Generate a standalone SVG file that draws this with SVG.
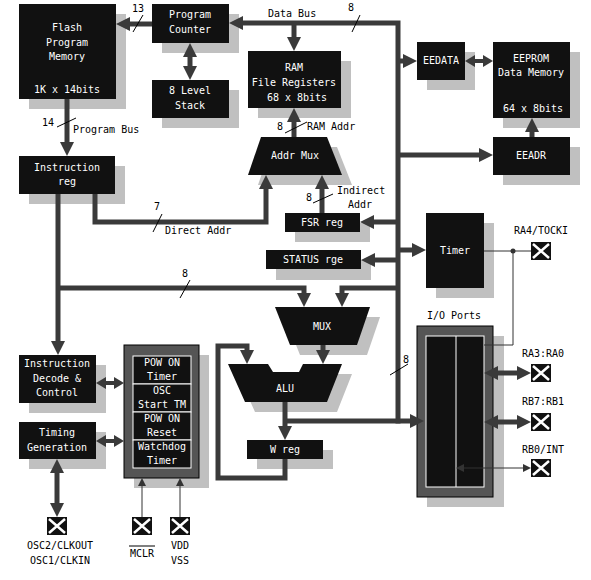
<svg xmlns="http://www.w3.org/2000/svg" width="591" height="580" viewBox="0 0 591 580">
<style>
text{font-family:"DejaVu Sans Mono","Liberation Mono",monospace;font-size:10px;}
.w{fill:#fff;text-anchor:middle;}
.k{fill:#000;}
.c{text-anchor:middle;}
.bx{fill:#111;}
.sh{fill:#c0c0c0;}
.fr{fill:#555;stroke:#000;stroke-width:1;}
.cell{fill:#111;stroke:#fff;stroke-width:1;}
.cn{fill:none;stroke:#3a3a3a;stroke-width:5;}
.cs{fill:none;stroke:#3a3a3a;stroke-width:4;}
.tn{fill:none;stroke:#333;stroke-width:1;}
.sl{stroke:#000;stroke-width:1;}
.pin rect{fill:#111;}
.pin path{stroke:#fff;stroke-width:2.5;}
</style>
<defs>
<marker id="ah" viewBox="0 0 14 14" refX="2" refY="7" markerWidth="14" markerHeight="14" markerUnits="userSpaceOnUse" orient="auto-start-reverse"><path d="M0,0 L14,7 L0,14 z" fill="#3a3a3a"/></marker>
<marker id="as" viewBox="0 0 10 12" refX="2" refY="6" markerWidth="10" markerHeight="12" markerUnits="userSpaceOnUse" orient="auto-start-reverse"><path d="M0,0 L10,6 L0,12 z" fill="#3a3a3a"/></marker>
<marker id="th" viewBox="0 0 8 8" refX="1" refY="4" markerWidth="8" markerHeight="8" markerUnits="userSpaceOnUse" orient="auto-start-reverse"><path d="M0,0 L8,4 L0,8 z" fill="#333"/></marker>
</defs>
<rect width="591" height="580" fill="#fff"/>

<g id="flash">
<rect class="sh" x="29" y="14" width="97" height="95"/>
<rect class="bx" x="19" y="4" width="97" height="95"/>
<text class="w" x="67" y="31">Flash</text>
<text class="w" x="67" y="46">Program</text>
<text class="w" x="67" y="60">Memory</text>
<text class="w" x="67" y="93">1K x 14bits</text>
</g>
<g id="pc">
<rect class="sh" x="162" y="14" width="77" height="39"/>
<rect class="bx" x="152" y="4" width="77" height="39"/>
<text class="w" x="190" y="18">Program</text>
<text class="w" x="190" y="33">Counter</text>
</g>
<g id="stack">
<rect class="sh" x="162" y="90" width="77" height="38"/>
<rect class="bx" x="152" y="80" width="77" height="38"/>
<text class="w" x="190" y="94">8 Level</text>
<text class="w" x="190" y="109">Stack</text>
</g>
<g id="ir">
<rect class="sh" x="29" y="166" width="96" height="38"/>
<rect class="bx" x="19" y="156" width="96" height="38"/>
<text class="w" x="67" y="171">Instruction</text>
<text class="w" x="67" y="185">reg</text>
</g>
<g id="ram">
<rect class="sh" x="258" y="61" width="93" height="57"/>
<rect class="bx" x="248" y="51" width="93" height="57"/>
<text class="w" x="294" y="71">RAM</text>
<text class="w" x="294" y="86">File Registers</text>
<text class="w" x="297" y="101">68 x 8bits</text>
</g>
<g id="addrmux">
<polygon class="sh" points="271,147 337,147 352,185 258,185"/>
<polygon class="bx" points="261,137 327,137 342,175 248,175"/>
<text class="w" x="295" y="159">Addr Mux</text>
</g>
<g id="eedata">
<rect class="sh" x="427" y="52" width="48" height="38"/>
<rect class="bx" x="417" y="42" width="48" height="38"/>
<text class="w" x="441" y="64">EEDATA</text>
</g>
<g id="eeprom">
<rect class="sh" x="503" y="52" width="77" height="76"/>
<rect class="bx" x="493" y="42" width="77" height="76"/>
<text class="w" x="531" y="62">EEPROM</text>
<text class="w" x="531" y="76">Data Memory</text>
<text class="w" x="533" y="112">64 x 8bits</text>
</g>
<g id="eeadr">
<rect class="sh" x="503" y="147" width="77" height="38"/>
<rect class="bx" x="493" y="137" width="77" height="38"/>
<text class="w" x="531" y="159">EEADR</text>
</g>
<g id="fsr">
<rect class="sh" x="295" y="223" width="75" height="19"/>
<rect class="bx" x="285" y="213" width="75" height="19"/>
<text class="w" x="322" y="226">FSR reg</text>
</g>
<g id="status">
<rect class="sh" x="276" y="260" width="95" height="20"/>
<rect class="bx" x="266" y="250" width="95" height="19"/>
<text class="w" x="313" y="263">STATUS rge</text>
</g>
<g id="timer">
<rect class="sh" x="436" y="223" width="58" height="75"/>
<rect class="bx" x="426" y="213" width="58" height="75"/>
<text class="w" x="455" y="254">Timer</text>
</g>
<g id="mux">
<polygon class="sh" points="285,317 380,317 367,355 300,355"/>
<polygon class="bx" points="275,307 370,307 357,345 290,345"/>
<text class="w" x="322" y="330">MUX</text>
</g>
<g id="alu">
<polygon class="sh" points="238,374 278,374 283,382 309,382 313,374 352,374 337,412 255,412"/>
<polygon class="bx" points="228,364 268,364 273,372 299,372 303,364 342,364 327,402 245,402"/>
<text class="w" x="285" y="392">ALU</text>
</g>
<g id="wreg">
<rect class="sh" x="257" y="450" width="76" height="19"/>
<rect class="bx" x="247" y="440" width="76" height="19"/>
<text class="w" x="285" y="453">W reg</text>
</g>
<g id="decode">
<rect class="sh" x="29" y="365" width="77" height="48"/>
<rect class="bx" x="19" y="355" width="77" height="48"/>
<text class="w" x="57" y="367">Instruction</text>
<text class="w" x="57" y="382">Decode &amp;</text>
<text class="w" x="57" y="396">Control</text>
</g>
<g id="timing">
<rect class="sh" x="29" y="432" width="77" height="37"/>
<rect class="bx" x="19" y="422" width="77" height="37"/>
<text class="w" x="57" y="436">Timing</text>
<text class="w" x="57" y="451">Generation</text>
</g>
<g id="power">
<rect class="sh" x="134" y="355" width="75" height="133"/>
<rect class="fr" x="124" y="345" width="75" height="133"/>
<rect class="cell" x="133" y="356" width="58" height="28"/>
<rect class="cell" x="133" y="384" width="58" height="28"/>
<rect class="cell" x="133" y="412" width="58" height="28"/>
<rect class="cell" x="133" y="440" width="58" height="28"/>
<text class="w" x="162" y="366">POW ON</text>
<text class="w" x="162" y="380">Timer</text>
<text class="w" x="162" y="394">OSC</text>
<text class="w" x="162" y="408">Start TM</text>
<text class="w" x="162" y="422">POW ON</text>
<text class="w" x="162" y="436">Reset</text>
<text class="w" x="162" y="450">Watchdog</text>
<text class="w" x="162" y="464">Timer</text>
</g>
<g id="ioports">
<rect class="sh" x="427" y="336" width="77" height="171"/>
<rect class="fr" x="417" y="326" width="76" height="171"/>
<rect class="cell" x="426" y="336" width="58" height="151"/>
<line x1="456" y1="336" x2="456" y2="487" stroke="#fff" stroke-width="1"/>
<text class="k c" x="454" y="319">I/O Ports</text>
</g>

<g id="pin-ra4" class="pin">
<rect x="531" y="242" width="20" height="18"/><path d="M533,244 L549,258 M549,244 L533,258"/>
<text class="k c" x="541" y="234">RA4/TOCKI</text>
</g>
<g id="pin-ra3" class="pin">
<rect x="531" y="364" width="20" height="18"/><path d="M533,366 L549,380 M549,366 L533,380"/>
<text class="k c" x="543" y="357">RA3:RA0</text>
</g>
<g id="pin-rb7" class="pin">
<rect x="531" y="413" width="20" height="18"/><path d="M533,415 L549,429 M549,415 L533,429"/>
<text class="k c" x="543" y="405">RB7:RB1</text>
</g>
<g id="pin-rb0" class="pin">
<rect x="531" y="459" width="20" height="18"/><path d="M533,461 L549,475 M549,461 L533,475"/>
<text class="k c" x="543" y="453">RB0/INT</text>
</g>
<g id="pin-osc" class="pin">
<rect x="47" y="517" width="20" height="18"/><path d="M49,519 L65,533 M65,519 L49,533"/>
<text class="k c" x="60" y="549">OSC2/CLKOUT</text>
<text class="k c" x="60" y="564">OSC1/CLKIN</text>
</g>
<g id="pin-mclr" class="pin">
<rect x="132" y="517" width="20" height="18"/><path d="M134,519 L150,533 M150,519 L134,533"/>
<text class="k c" x="142" y="557">MCLR</text>
<line x1="129" y1="546" x2="155" y2="546" stroke="#000" stroke-width="1"/>
</g>
<g id="pin-vdd" class="pin">
<rect x="170" y="517" width="20" height="18"/><path d="M172,519 L188,533 M188,519 L172,533"/>
<text class="k c" x="180" y="549">VDD</text>
<text class="k c" x="180" y="564">VSS</text>
</g>

<g id="connectors">
<path class="cn" d="M152,24 H128" marker-end="url(#ah)"/>
<path class="cn" d="M190,55 V68" marker-start="url(#ah)" marker-end="url(#ah)"/>
<path class="cn" d="M67,99 V144" marker-end="url(#ah)"/>
<path class="cn" d="M398,423.5 V23 H241" marker-end="url(#ah)"/>
<path class="cn" d="M294,23 V39" marker-end="url(#ah)"/>
<path class="cn" d="M398,61 H405" marker-end="url(#ah)"/>
<path class="cs" d="M473,61 H485" marker-start="url(#as)" marker-end="url(#as)"/>
<path class="cn" d="M398,155 H481" marker-end="url(#ah)"/>
<path class="cn" d="M532,137 V130" marker-end="url(#ah)"/>
<path class="cn" d="M294,137 V120" marker-end="url(#ah)"/>
<path class="cn" d="M95,194 V222 H266 V187" marker-end="url(#ah)"/>
<path class="cn" d="M322,213 V187" marker-end="url(#ah)"/>
<path class="cn" d="M398,222 H372" marker-end="url(#ah)"/>
<path class="cn" d="M398,260 H373" marker-end="url(#ah)"/>
<path class="cn" d="M398,250 H414" marker-end="url(#ah)"/>
<path class="cn" d="M58,194 V343" marker-end="url(#ah)"/>
<path class="cn" d="M58,288 H304 V295" marker-end="url(#ah)"/>
<path class="cn" d="M398,288 H342 V295" marker-end="url(#ah)"/>
<path class="cn" d="M323,345 V352" marker-end="url(#ah)"/>
<path class="cn" d="M285,459 V478 H218 V346 H247 V352" marker-end="url(#ah)"/>
<path class="cn" d="M285,402 V428" marker-end="url(#ah)"/>
<path class="cn" d="M285,421 H412" marker-end="url(#ah)"/>
<path class="cs" d="M104,383 H116" marker-start="url(#as)" marker-end="url(#as)"/>
<path class="cs" d="M104,441 H116" marker-start="url(#as)" marker-end="url(#as)"/>
<path class="cn" d="M57,471 V505" marker-start="url(#ah)" marker-end="url(#ah)"/>
<path class="cn" d="M496,373 H519" marker-start="url(#ah)" marker-end="url(#ah)"/>
<path class="cn" d="M496,422 H519" marker-start="url(#ah)" marker-end="url(#ah)"/>
<path class="tn" d="M142,517 V485" marker-end="url(#th)"/>
<path class="tn" d="M180,517 V485" marker-end="url(#th)"/>
<path class="tn" d="M463,468 H524" marker-start="url(#th)" marker-end="url(#th)"/>
<path class="tn" d="M484,251 H531"/>
<path class="tn" d="M513,251 V345 H484"/>
<circle cx="513" cy="251" r="2.5" fill="#333"/>
</g>

<g id="bus-labels">
<text class="k c" x="138" y="12">13</text><line class="sl" x1="133" y1="32" x2="143" y2="15"/>
<text class="k c" x="48" y="126">14</text><line class="sl" x1="57" y1="127" x2="76" y2="118"/>
<text class="k" x="73" y="133">Program Bus</text>
<text class="k" x="268" y="17">Data Bus</text>
<text class="k c" x="351" y="11">8</text><line class="sl" x1="352" y1="32" x2="360" y2="15"/>
<text class="k c" x="280" y="130">8</text><line class="sl" x1="285" y1="133" x2="307" y2="122"/>
<text class="k" x="307" y="130">RAM Addr</text>
<text class="k c" x="157" y="210">7</text><line class="sl" x1="153" y1="232" x2="162" y2="214"/>
<text class="k" x="165" y="234">Direct Addr</text>
<text class="k c" x="185" y="277">8</text><line class="sl" x1="180" y1="298" x2="190" y2="280"/>
<text class="k c" x="309" y="201">8</text><line class="sl" x1="313" y1="203" x2="333" y2="194"/>
<text class="k" x="337" y="194">Indirect</text>
<text class="k" x="348" y="208">Addr</text>
<text class="k c" x="406" y="363">8</text><line class="sl" x1="390" y1="375" x2="408" y2="364"/>
</g>
</svg>
